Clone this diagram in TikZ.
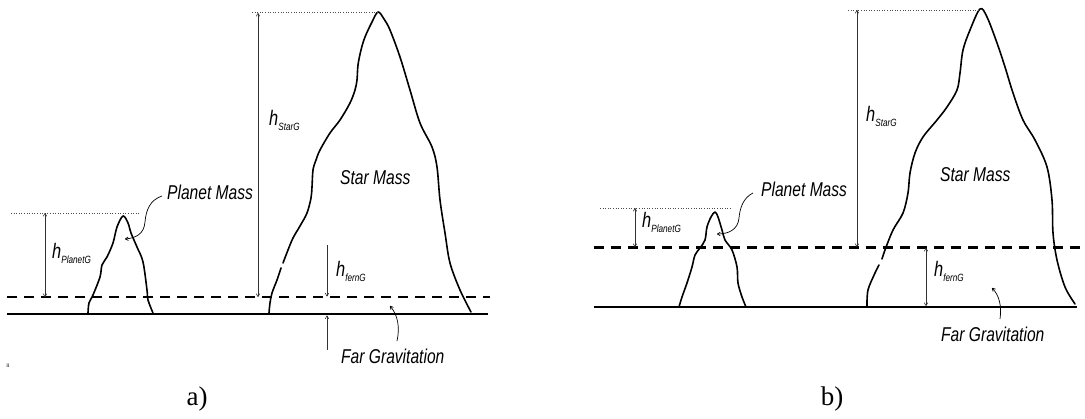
\documentclass[tikz,border=0pt]{standalone}
\usepackage{fontspec}
\setmainfont{Liberation Serif}
\newfontfamily\lblfont{Liberation Sans}[FakeStretch=0.78]
\usetikzlibrary{arrows.meta}
\newcommand{\hsub}[1]{{\fontsize{21}{21}\selectfont h}\raisebox{-4.5pt}{\fontsize{10.5}{10.5}\selectfont #1}}
\tikzset{
  massline/.style={line width=1.6pt, line cap=round, line join=round},
  ground/.style={line width=2.2pt},
  gravline/.style={line width=2.2pt, dash pattern=on 10pt off 7pt},
  topline/.style={line width=0.6pt, dotted, black!70},
  dim/.style={line width=0.6pt, black!80, {To[length=3.5pt,width=4pt]}-{To[length=3.5pt,width=4pt]}},
  dimone/.style={line width=0.6pt, black!80, -{To[length=3.5pt,width=4pt]}},
  pointer/.style={line width=0.7pt, -{To[length=3.5pt,width=4pt]}},
  lbl/.style={anchor=base west, inner sep=0pt, font=\lblfont\itshape\fontsize{20}{20}\selectfont},
  hlbl/.style={anchor=base west, inner sep=0pt, font=\lblfont\itshape},
  captionlbl/.style={anchor=base, inner sep=0pt, font=\fontsize{27}{27}\selectfont}
}
\begin{document}
\begin{tikzpicture}[x=1pt, y=-1pt]
\useasboundingbox (0,0) rectangle (1085,419);

% ================= panel a =================
\coordinate (ga1) at (7,314); \coordinate (ga2) at (488,314);
\coordinate (da1) at (7,297); \coordinate (da2) at (490,297);
\draw[ground] (ga1) -- (ga2);
\draw[gravline] (da1) -- (da2);

% planet a
\draw[massline] plot[smooth, tension=0.55] coordinates {
 (88,313) (89,303) (93,295) (100,277) (102,265) (107,257) (113,243) (117,227) (123,216)
 (128,223) (131,233) (137,247) (143,262) (147,290) (148,300) (153,313)};
% star a
\draw[massline] plot[smooth, tension=0.55] coordinates {
 (269,313) (270,303) (272,293) (277,280) (281,268)};
\draw[massline] plot[smooth, tension=0.55] coordinates {
 (283,263) (288,250) (293,238) (300,226) (307,213) (311,198) (312,187) (313,170) (316,160)
 (320,150) (330,133) (340,120) (350,103) (355,90) (357,80) (358,65) (361,50) (365,37)
 (372,22) (378,12) (384,19) (390,30) (400,57) (410,90) (420,123) (432,147) (437,167)
 (440,200) (445,233) (450,263) (460,290) (471,312)};

% top lines
\coordinate (pta1) at (11,213); \coordinate (pta2) at (139,213);
\draw[topline] (pta1) -- (pta2);
\coordinate (sta1) at (252,12); \coordinate (sta2) at (378,12);
\draw[topline] (sta1) -- (sta2);

% dimension arrows a
\coordinate (hpa1) at (45,213); \coordinate (hpa2) at (45,297);
\draw[dim] (hpa1) -- (hpa2);
\coordinate (hsa1) at (258,13); \coordinate (hsa2) at (258,297);
\draw[dim] (hsa1) -- (hsa2);
\coordinate (hfa1) at (327,245); \coordinate (hfa2) at (327,296.5);
\draw[dimone] (hfa1) -- (hfa2);
\coordinate (hfa3) at (327,350); \coordinate (hfa4) at (327,315.5);
\draw[dimone] (hfa3) -- (hfa4);

\node[hlbl] (lhpa) at (52,259) {\hsub{PlanetG}};
\node[hlbl] (lhsa) at (269,126) {\hsub{StarG}};
\node[hlbl] (lhfa) at (336,277) {\hsub{fernG}};

\node[lbl] (pma) at (167,200) {Planet Mass};
\node[lbl] (sma) at (340,185) {Star Mass};
\node[lbl] (fga) at (341,364) {Far Gravitation};

\coordinate (pma0) at (162,196); \coordinate (pma1) at (125,239);
\draw[pointer] (pma0) .. controls (150,200) and (146,210) .. (145,222)
  .. controls (144,234) and (136,238) .. (pma1);
\coordinate (fga0) at (397,341); \coordinate (fga1) at (390,306);
\draw[pointer] (fga0) .. controls (400,328) and (398,315) .. (fga1);

\node[inner sep=0pt, font=\fontsize{5}{5}\selectfont] (mark) at (8,366) {II};

\node[captionlbl] (capa) at (197,406) {a)};

% ================= panel b =================
\coordinate (gb1) at (594,307); \coordinate (gb2) at (1077,307);
\coordinate (db1) at (594,247.5); \coordinate (db2) at (1080,247.5);
\draw[ground] (gb1) -- (gb2);
\draw[gravline] (db1) -- (db2);

% planet b
\draw[massline] plot[smooth, tension=0.55] coordinates {
 (679,307) (682,297) (687,283) (692,267) (695,255) (700,248) (705,240) (707,227) (711,217)
 (715,212) (718,217) (722,230) (725,240) (732,250) (737,267) (738,283) (742,297) (746,307)};
% star b
\draw[massline] plot[smooth, tension=0.55] coordinates {
 (867,306) (868,290) (875,273) (879,265)};
\draw[massline] plot[smooth, tension=0.55] coordinates {
 (882,259) (885,250) (893,230) (903,213) (908,193) (910,173) (915,153) (923,137) (937,120)
 (947,107) (957,90) (960,73) (963,50) (970,30) (980,9) (987,17) (997,43) (1005,67)
 (1013,93) (1023,120) (1035,140) (1047,167) (1052,200) (1053,233) (1057,260) (1065,287)
 (1075,304)};

\coordinate (ptb1) at (600,208); \coordinate (ptb2) at (732,208);
\draw[topline] (ptb1) -- (ptb2);
\coordinate (stb1) at (848,10); \coordinate (stb2) at (980,10);
\draw[topline] (stb1) -- (stb2);

\coordinate (hpb1) at (635,208); \coordinate (hpb2) at (635,247);
\draw[dim] (hpb1) -- (hpb2);
\coordinate (hsb1) at (857,10); \coordinate (hsb2) at (857,247);
\draw[dim] (hsb1) -- (hsb2);
\coordinate (hfb1) at (926,248); \coordinate (hfb2) at (926,306);
\draw[dim] (hfb1) -- (hfb2);

\node[hlbl] (lhpb) at (642,228) {\hsub{PlanetG}};
\node[hlbl] (lhsb) at (866,122) {\hsub{StarG}};
\node[hlbl] (lhfb) at (934,277) {\hsub{fernG}};

\node[lbl] (pmb) at (761,197) {Planet Mass};
\node[lbl] (smb) at (940,182) {Star Mass};
\node[lbl] (fgb) at (941,342) {Far Gravitation};

\coordinate (pmb0) at (753,193); \coordinate (pmb1) at (717,234);
\draw[pointer] (pmb0) .. controls (743,198) and (740,208) .. (739,218)
  .. controls (738,230) and (728,234) .. (pmb1);
\coordinate (fgb0) at (1000,319); \coordinate (fgb1) at (992,288);
\draw[pointer] (fgb0) .. controls (1002,306) and (999,295) .. (fgb1);

\node[captionlbl] (capb) at (832,406) {b)};
\end{tikzpicture}
\end{document}
